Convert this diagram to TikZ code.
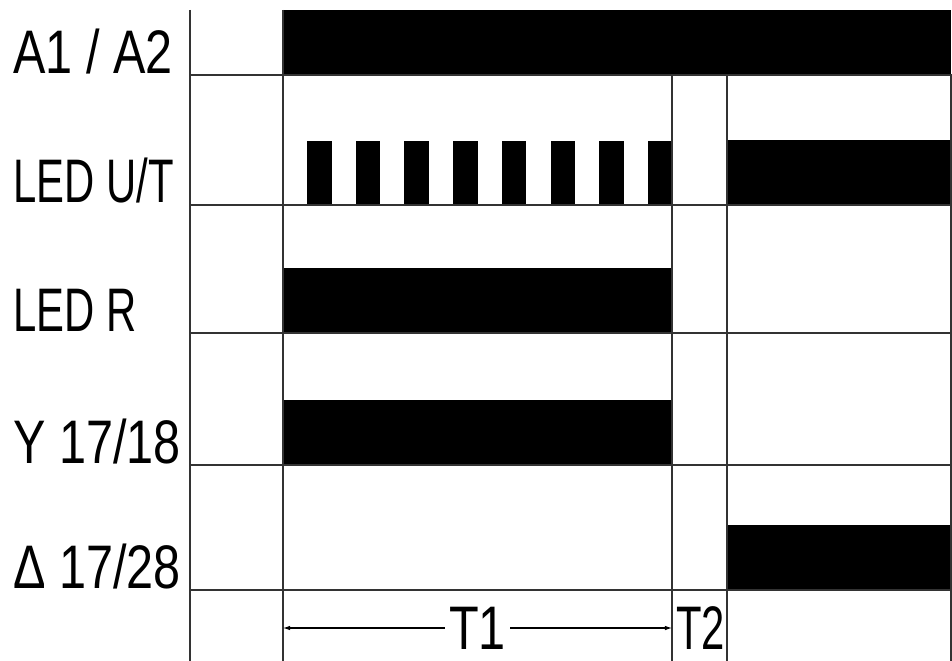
\documentclass[tikz,border=0pt]{standalone}
\usepackage{fontspec}
\setmainfont[FakeStretch=0.79]{Liberation Sans}
\newfontfamily\ledfont[FakeStretch=0.68]{Liberation Sans}
\usepackage{tikz}
\usetikzlibrary{arrows.meta,positioning,calc}

\begin{document}
\begin{tikzpicture}[x=0.02cm, y=-0.02cm,
  grid/.style={draw=black!80, line width=0.8pt},
  level/.style={fill=black},
  signame/.style={anchor=base west, inner sep=0pt, font=\fontsize{35}{40}\selectfont},
  span/.style={{Latex[length=4pt,width=2.6pt]}-{Latex[length=4pt,width=2.6pt]}, line width=0.6pt},
  tlabel/.style={font=\fontsize{35}{40}\selectfont}
]
\useasboundingbox (0,0) rectangle (952,661);

% Signal levels
\fill[level] (283,10) rectangle (951,75);
\foreach \k in {0,...,7}
  \fill[level] ({307+48.7*\k},141) rectangle ({min(331.5+48.7*\k,672)},205);
\fill[level] (727,140) rectangle (951,205);
\fill[level] (283,268) rectangle (672,333);
\fill[level] (283,400) rectangle (672,465);
\fill[level] (727,525) rectangle (951,590);

% Grid
\draw[grid] (190,10) -- (190,661);
\draw[grid] (283,10) -- (283,661);
\foreach \x in {672,727,951}
  \draw[grid] (\x,75) -- (\x,661);
\foreach \y in {75,205,333,465,590}
  \draw[grid] (190,\y) -- (952,\y);

% Signal names
\node[signame] (a1a2) at (13,74) {A1 / A2};
\node[signame] (ledut) at (13,203) {\ledfont LED U/T};
\node[signame] (ledr) at (13,332) {\ledfont LED R};
\node[signame] (y1718) at (13,463) {Y 17/18};
\node[signame] (d1728) at (13,588) {Δ 17/28};

% Times
\coordinate (t1start) at (283,628);
\coordinate (t1end) at (672,628);
\draw[span] (t1start) -- (t1end)
  node[midway, tlabel, fill=white, inner sep=2.5pt] (t1) {T1}
  node[right, tlabel, inner sep=2pt] (t2) {\ledfont T2};

\end{tikzpicture}
\end{document}
